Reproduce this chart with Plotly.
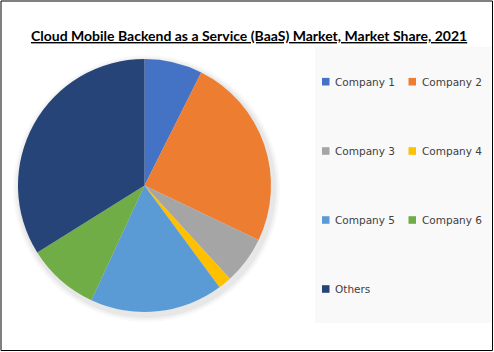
import plotly.graph_objects as go

title = "Cloud Mobile Backend as a Service (BaaS) Market, Market Share, 2021"
companies = ["Company 1", "Company 2", "Company 3", "Company 4", "Company 5", "Company 6", "Others"]
shares = [7.4, 24.7, 6.1, 1.7, 17.0, 9.2, 33.9]
colors = ["#4472C4", "#ED7D31", "#A5A5A5", "#FFC000", "#5B9BD5", "#70AD47", "#264478"]

W, H = 494, 352
cx, cy, r = 144.5, 185.5, 126.5  # pixel layout of the pie

fig = go.Figure()
fig.add_trace(go.Pie(
    labels=companies, values=shares, sort=False, direction="clockwise", rotation=0,
    marker=dict(colors=colors, line=dict(width=0)),
    textinfo="none", hoverinfo="label+percent", showlegend=False,
    domain=dict(x=[(cx - r) / W, (cx + r) / W], y=[(H - cy - r) / H, (H - cy + r) / H]),
))

shapes = []
# soft shadow behind the pie
for k, a in [(7, 0.025), (5, 0.03), (3, 0.04)]:
    shapes.append(dict(type="circle", xref="paper", yref="paper", layer="below",
                       x0=(cx - r - k + 2) / W, x1=(cx + r + k + 2) / W,
                       y0=(H - cy - r - k - 3) / H, y1=(H - cy + r + k - 3) / H,
                       fillcolor=f"rgba(0,0,0,{a})", line=dict(width=0)))
# legend panel
shapes.append(dict(type="rect", xref="paper", yref="paper", layer="below",
                   x0=315 / W, x1=491 / W, y0=(H - 323) / H, y1=(H - 47) / H,
                   fillcolor="#F9F9F9", line=dict(width=0)))
# outer border
shapes.append(dict(type="rect", xref="paper", yref="paper",
                   x0=1 / W, x1=492.5 / W, y0=1.5 / H, y1=351 / H,
                   line=dict(color="#000000", width=1)))

annotations = [dict(text=f"<b><u>{title}</u></b>", x=248.5 / W, y=(H - 25) / H,
                    xref="paper", yref="paper", showarrow=False,
                    font=dict(family="Lato", size=14, color="#000000"))]

row_y = [81.7, 151, 220, 289]
col_x = [322, 408.5]
for i, (name, col) in enumerate(zip(companies, colors)):
    rx = col_x[i % 2]
    ry = row_y[i // 2]
    shapes.append(dict(type="rect", xref="paper", yref="paper",
                       x0=rx / W, x1=(rx + 7.5) / W, y0=(H - ry - 3.8) / H, y1=(H - ry + 3.8) / H,
                       fillcolor=col, line=dict(width=0)))
    annotations.append(dict(text=name, x=(rx + 11) / W, y=(H - ry) / H,
                            xref="paper", yref="paper", showarrow=False,
                            xanchor="left", yanchor="middle",
                            font=dict(family="DejaVu Sans", size=10.5, color="#404040")))

fig.update_layout(width=W, height=H, margin=dict(l=0, r=0, t=0, b=0),
                  paper_bgcolor="#FFFFFF", plot_bgcolor="#FFFFFF",
                  shapes=shapes, annotations=annotations, showlegend=False)

fig.write_html("out.html")
